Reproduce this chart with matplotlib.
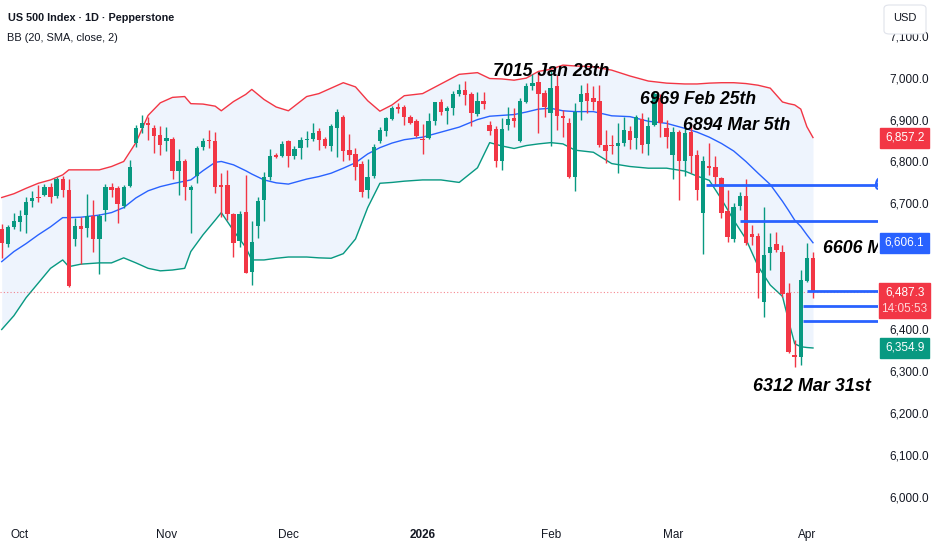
import matplotlib
matplotlib.use('Agg')
import matplotlib.pyplot as plt
from matplotlib import font_manager, transforms
from matplotlib.patches import Rectangle, FancyBboxPatch
import numpy as np

# daily candles, late Sep 2025 -> 2 Apr 2026 (bar index = trading day)
opens = [6640, 6603, 6643, 6655, 6672, 6706, 6715, 6720, 6740, 6718,
         6757, 6732, 6616, 6647, 6642, 6671, 6616, 6684, 6740, 6736,
         6694, 6742, 6844, 6879, 6893, 6881, 6864, 6849, 6853, 6778,
         6802, 6732, 6766, 6835, 6851, 6850, 6743, 6743, 6675, 6611,
         6679, 6537, 6647, 6708, 6763, 6816, 6813, 6849, 6813, 6831,
         6851, 6853, 6873, 6853, 6838, 6879, 6905, 6828, 6818, 6793,
         6732, 6766, 6849, 6873, 6901, 6929, 6930, 6905, 6896, 6854,
         6855, 6897, 6943, 6920, 6928, 6960, 6971, 6960, 6914, 6945,
         6887, 6877, 6801, 6887, 6903, 6849, 6943, 6980, 6989, 6963,
         6915, 6980, 6909, 6893, 6764, 6943, 6963, 6951, 6945, 6839,
         6839, 6837, 6845, 6873, 6855, 6901, 6842, 6887, 6951, 6881,
         6816, 6871, 6800, 6871, 6816, 6677, 6789, 6787, 6760, 6681,
         6614, 6694, 6717, 6627, 6622, 6465, 6582, 6603, 6585, 6485,
         6338, 6334, 6515, 6569]
highs = [6651, 6648, 6678, 6684, 6716, 6730, 6744, 6746, 6749, 6763,
         6766, 6758, 6664, 6668, 6722, 6708, 6675, 6746, 6749, 6742,
         6745, 6804, 6887, 6911, 6906, 6887, 6885, 6883, 6859, 6829,
         6807, 6744, 6837, 6855, 6875, 6871, 6773, 6780, 6678, 6681,
         6768, 6657, 6715, 6776, 6829, 6820, 6850, 6851, 6837, 6859,
         6872, 6892, 6879, 6859, 6890, 6925, 6911, 6866, 6831, 6800,
         6806, 6842, 6882, 6907, 6933, 6940, 6935, 6911, 6901, 6890,
         6916, 6943, 6949, 6933, 6969, 6984, 6993, 6966, 6967, 6967,
         6897, 6885, 6903, 6931, 6927, 6951, 6988, 7009, 7011, 6971,
         7015, 7006, 6923, 6903, 6940, 6982, 6988, 6979, 6983, 6875,
         6863, 6891, 6907, 6885, 6911, 6916, 6907, 6969, 6960, 6899,
         6883, 6875, 6879, 6890, 6828, 6812, 6844, 6812, 6764, 6732,
         6701, 6728, 6757, 6648, 6629, 6692, 6629, 6632, 6601, 6509,
         6374, 6541, 6605, 6585]
lows = [6570, 6597, 6638, 6635, 6629, 6691, 6704, 6718, 6701, 6712,
        6715, 6500, 6598, 6555, 6620, 6585, 6531, 6657, 6715, 6653,
        6688, 6739, 6834, 6869, 6851, 6821, 6816, 6824, 6758, 6720,
        6708, 6630, 6749, 6827, 6831, 6724, 6668, 6661, 6573, 6596,
        6534, 6505, 6617, 6659, 6756, 6809, 6810, 6787, 6807, 6806,
        6835, 6848, 6828, 6831, 6824, 6810, 6800, 6804, 6756, 6716,
        6712, 6760, 6844, 6861, 6899, 6916, 6887, 6890, 6859, 6818,
        6853, 6887, 6910, 6890, 6911, 6956, 6935, 6885, 6909, 6925,
        6863, 6787, 6780, 6875, 6882, 6847, 6940, 6971, 6868, 6907,
        6838, 6875, 6858, 6760, 6729, 6899, 6915, 6923, 6834, 6797,
        6818, 6773, 6836, 6830, 6830, 6820, 6815, 6885, 6859, 6832,
        6758, 6708, 6766, 6773, 6708, 6578, 6768, 6744, 6664, 6609,
        6609, 6685, 6600, 6601, 6475, 6430, 6541, 6585, 6477, 6342,
        6310, 6314, 6513, 6473]
closes = [6606, 6644, 6657, 6670, 6704, 6714, 6712, 6740, 6716, 6757,
          6732, 6503, 6646, 6638, 6670, 6615, 6670, 6740, 6732, 6698,
          6739, 6788, 6879, 6893, 6886, 6861, 6839, 6855, 6778, 6802,
          6739, 6740, 6831, 6850, 6848, 6738, 6740, 6675, 6605, 6675,
          6534, 6609, 6706, 6764, 6813, 6811, 6842, 6813, 6830, 6851,
          6853, 6868, 6851, 6837, 6885, 6919, 6826, 6816, 6787, 6728,
          6764, 6835, 6875, 6903, 6928, 6925, 6905, 6893, 6862, 6851,
          6896, 6941, 6919, 6928, 6960, 6970, 6959, 6916, 6944, 6938,
          6872, 6800, 6877, 6901, 6897, 6945, 6979, 6988, 6960, 6931,
          6975, 6909, 6903, 6762, 6919, 6960, 6945, 6943, 6839, 6825,
          6836, 6845, 6874, 6851, 6905, 6839, 6885, 6961, 6892, 6859,
          6871, 6802, 6867, 6814, 6732, 6802, 6785, 6762, 6677, 6620,
          6692, 6717, 6606, 6620, 6533, 6577, 6595, 6589, 6484, 6346,
          6333, 6517, 6569, 6487.3]

# Bollinger Bands (20, SMA, close, 2) read at these bars
bb_idx = [0, 2, 4, 6, 8, 10, 11, 13, 16, 18, 20, 22, 24, 26, 28, 30, 31, 33, 35, 36,
          38, 40, 41, 43, 45, 47, 50, 52, 54, 56, 58, 60, 62, 64, 66, 69, 72, 75, 78, 80,
          82, 84, 86, 88, 90, 92, 94, 97, 100, 103, 106, 109, 112, 114, 116, 118, 120, 122, 124, 126,
          128, 129, 130, 131, 132, 133]
bb_upper = [6714, 6723, 6736, 6748, 6756, 6768, 6780, 6780, 6780, 6788,
            6800, 6845, 6910, 6940, 6953, 6955, 6938, 6937, 6932, 6921,
            6943, 6960, 6972, 6948, 6930, 6921, 6955, 6962, 6975, 6988,
            6978, 6945, 6920, 6935, 6957, 6962, 6985, 7008, 7012, 6998,
            6997, 6994, 6999, 7015, 7020, 7030, 7028, 7026, 7018, 7004,
            6992, 6987, 6985, 6985, 6987, 6988, 6988, 6986, 6982, 6975,
            6942, 6938, 6935, 6925, 6883, 6857.2]
bb_mid = [6561, 6585, 6604, 6625, 6644, 6666, 6666, 6667, 6672, 6678,
          6690, 6713, 6730, 6740, 6747, 6753, 6756, 6778, 6798, 6800,
          6792, 6778, 6770, 6756, 6749, 6746, 6758, 6764, 6772, 6784,
          6797, 6818, 6833, 6844, 6852, 6858, 6870, 6882, 6900, 6908,
          6910, 6912, 6918, 6925, 6927, 6921, 6919, 6919, 6909, 6907,
          6896, 6891, 6879, 6870, 6858, 6843, 6825, 6800, 6772, 6745,
          6705, 6683, 6660, 6645, 6625, 6606.1]
bb_lower = [6399, 6432, 6475, 6510, 6545, 6565, 6549, 6555, 6558, 6558,
            6570, 6558, 6545, 6539, 6541, 6545, 6585, 6625, 6660, 6678,
            6635, 6595, 6565, 6565, 6569, 6572, 6572, 6570, 6569, 6580,
            6615, 6690, 6748, 6750, 6753, 6756, 6756, 6750, 6785, 6845,
            6837, 6831, 6838, 6842, 6845, 6842, 6827, 6822, 6795, 6788,
            6784, 6784, 6777, 6765, 6755, 6710, 6660, 6615, 6550, 6505,
            6478, 6420, 6365, 6358, 6356, 6354.9]

# drawn levels: (first bar, price)
level_start = [115.5, 121, 132, 131.4, 131.4]
level_price = [6743, 6659, 6491, 6455, 6419]

notes = ['7015 Jan 28th', '6969 Feb 25th', '6894 Mar 5th', '6606 M', '6312 Mar 31st']
note_x = [80.5, 104.6, 111.7, 134.6, 123.2]
note_y = [7014, 6947, 6887, 6593, 6262]
note_w = [112, 112, 104, None, 113]   # visible width in px

month_labels = ['Oct', 'Nov', 'Dec', '2026', 'Feb', 'Mar', 'Apr']
month_pos = [3, 27, 47, 69, 90, 110, 132]

scale_ticks = [6000, 6100, 6200, 6300, 6400, 6700, 6800, 6900, 7000, 7100]

last_price = 6487.3
GREEN, RED, BLUE, INK = '#089981', '#F23645', '#2962FF', '#131722'

names = {f.name for f in font_manager.fontManager.ttflist}
cands = ['Liberation Sans Narrow', 'DejaVu Sans Condensed', 'Liberation Sans', 'DejaVu Sans']
NARROW = next(f for f in cands if f in names)
plt.rcParams['font.family'] = [NARROW, 'DejaVu Sans']

W, H = 932, 550
fig = plt.figure(figsize=(W / 100, H / 100), dpi=100)
fig.patch.set_facecolor('white')
ax = fig.add_axes([0, 32 / H, 878 / W, 518 / H])
ax.set_xlim(-0.28, 143.66)
ax.set_ylim(5949.1, 7185.4)
for s in ax.spines.values():
    s.set_visible(False)
renderer = fig.canvas.get_renderer()


def fit(t, target, grow=1.0):
    w = t.get_window_extent(renderer).width
    t.set_fontsize(t.get_fontsize() * target / w * grow)
    return t.get_fontsize()


# size for the small scale texts: "7,000.0" is about 35 px wide
probe = fig.text(0, 0, '7,000.0', fontsize=9)
SMALL = fit(probe, 35, 1.12)
probe.remove()

# bands
ax.fill_between(bb_idx, bb_lower, bb_upper, color='#eef4fd', lw=0, zorder=1)
ax.plot(bb_idx, bb_upper, color=RED, lw=1, zorder=2)
ax.plot(bb_idx, bb_mid, color=BLUE, lw=1, zorder=2)
ax.plot(bb_idx, bb_lower, color=GREEN, lw=1, zorder=2)

# candles
o = np.array(opens); h = np.array(highs); l = np.array(lows); c = np.array(closes)
x = np.arange(len(c))
cols = np.where(c >= o, GREEN, RED)
ax.vlines(x, l, h, colors=cols, lw=1, zorder=3)
body = np.maximum(np.abs(c - o), 2.5)
ax.bar(x, body, bottom=np.minimum(o, c), width=0.72, color=cols, lw=0, zorder=4)

# last price line and drawn levels
ax.axhline(last_price, color=RED, lw=0.8, ls=(0, (1, 2)), alpha=0.6, zorder=2)
for xs, p in zip(level_start, level_price):
    ax.plot([xs, 150], [p, p], color=BLUE, lw=2, zorder=5, solid_capstyle='butt')

sizes = []
note_texts = []
for t, nx, ny, tw in zip(notes, note_x, note_y, note_w):
    tx = ax.text(nx, ny, t, fontsize=15, style='italic', fontweight='bold', color='black',
                 va='center', ha='left', zorder=7, clip_on=True)
    note_texts.append(tx)
    if tw:
        sizes.append(fit(tx, tw, 1.04))
note_texts[3].set_fontsize(np.mean(sizes))
ax.text(142.9, level_price[0], '6', color=BLUE, fontsize=np.mean(sizes), style='italic',
        fontweight='bold', va='center', ha='left', zorder=6, clip_on=True)

# axes ticks
ax.set_xticks(month_pos)
ax.set_xticklabels(month_labels)
ax.tick_params(axis='x', length=0, pad=8, labelsize=SMALL, labelcolor=INK)
ax.get_xticklabels()[3].set_fontweight('bold')
ax.yaxis.set_ticks_position('right')
ax.set_yticks(scale_ticks)
ax.set_yticklabels([f'{v:,.1f}' for v in scale_ticks])
ax.tick_params(axis='y', length=0, pad=8, labelsize=SMALL, labelcolor=INK)

# price-scale value boxes
blend = transforms.blended_transform_factory(ax.transAxes, ax.transData)
pp = 1 / 0.419  # price units per pixel
boxes = [(bb_upper[-1], RED), (bb_mid[-1], BLUE), (bb_lower[-1], GREEN)]
for p, col in boxes:
    ax.add_patch(Rectangle((1.0025, p - 10 * pp), 0.0556, 20 * pp, transform=blend,
                           color=col, clip_on=False, zorder=8))
    ax.text(1.0303, p, f'{p:,.1f}', transform=blend, color='white', fontsize=SMALL,
            ha='center', va='center', zorder=9, clip_on=False)
ax.add_patch(Rectangle((1.0015, last_price - 26 * pp), 0.0576, 35 * pp, transform=blend,
                       color=RED, clip_on=False, zorder=8))
ax.text(1.0303, last_price, f'{last_price:,.1f}', transform=blend, color='white',
        fontsize=SMALL, ha='center', va='center', zorder=9, clip_on=False)
ax.text(1.0303, last_price - 16.5 * pp, '14:05:53', transform=blend, color='#ffd6d9',
        fontsize=SMALL, ha='center', va='center', zorder=9, clip_on=False)

# header
t1 = fig.text(8 / W, 1 - 18 / H, 'US 500 Index · 1D · Pepperstone', fontsize=9.5,
              fontweight='bold', color=INK, va='center', ha='left')
fit(t1, 151, 1.1)
t2 = fig.text(7 / W, 1 - 38 / H, 'BB (20, SMA, close, 2)', fontsize=9.5,
              color=INK, va='center', ha='left')
fit(t2, 101, 1.1)
fig.patches.append(FancyBboxPatch((884 / W, 1 - 34 / H), 42 / W, 29 / H,
                                  boxstyle='round,pad=0,rounding_size=0.006',
                                  transform=fig.transFigure, fc='white',
                                  ec='#e0e3eb', lw=0.8, zorder=5))
fig.text(905 / W, 1 - 18 / H, 'USD', fontsize=SMALL * 0.95, color=INK,
         ha='center', va='center', zorder=6)

fig.savefig('out.png', dpi=100)
